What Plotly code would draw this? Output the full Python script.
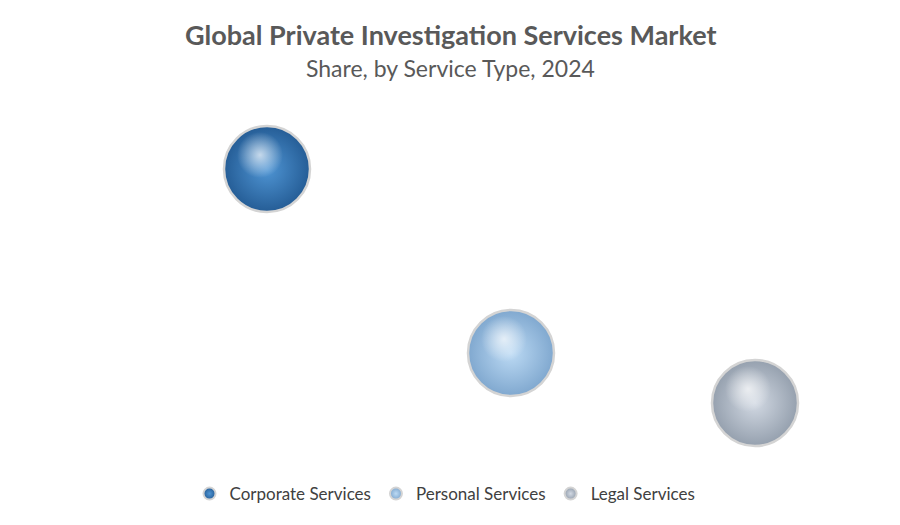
import plotly.graph_objects as go

categories = ["Corporate Services", "Personal Services", "Legal Services"]
share_values = [45.6, 29.4, 25.0]
inner_colors = ["#4f95d4", "#bcdaf4", "#d2d9e3"]
outer_colors = ["#255d96", "#80a8cf", "#95a0ae"]

fig = go.Figure()
for cat, val, ic, oc in zip(categories, share_values, inner_colors, outer_colors):
    fig.add_trace(go.Scatter(
        x=[cat], y=[val], name=cat, mode="markers",
        marker=dict(size=86, color=oc,
                    gradient=dict(type="radial", color=ic),
                    line=dict(color="#d4d4d4", width=2.5)),
        hovertemplate="%{x}: %{y}<extra></extra>",
    ))

# specular highlight drawn from same data on a slightly shifted overlay axis
fig.add_trace(go.Scatter(
    x=categories, y=share_values, mode="markers", showlegend=False,
    xaxis="x2", yaxis="y2", hoverinfo="skip",
    marker=dict(size=46, color="rgba(255,255,255,0)",
                gradient=dict(type="radial", color="rgba(255,255,255,0.7)"),
                line=dict(width=0)),
))

px_per_unit = 370 / (51.67 - 19.1)
dx = 7 / 244
dy = 14 / px_per_unit
cx = (450 - 145) / 732

fig.update_layout(
    width=900, height=525,
    paper_bgcolor="white", plot_bgcolor="white",
    margin=dict(l=145, r=23, t=100, b=55),
    font=dict(family="Lato, 'Open Sans', sans-serif", color="#404040"),
    xaxis=dict(type="category", categoryarray=categories, range=[-0.5, 2.5],
               visible=False),
    yaxis=dict(range=[19.1, 51.67], visible=False),
    xaxis2=dict(type="category", categoryarray=categories, overlaying="x",
                range=[-0.5 + dx, 2.5 + dx], visible=False),
    yaxis2=dict(range=[19.1 - dy, 51.67 - dy], overlaying="y", visible=False),
    showlegend=True,
    legend=dict(orientation="h", x=(445 - 145) / 732, xanchor="center",
                y=-0.065, yanchor="middle",
                itemsizing="constant", font=dict(size=17, color="#404040"),
                itemwidth=30, traceorder="normal"),
    annotations=[
        dict(text="<b>Global Private Investigation Services Market</b>",
             xref="paper", yref="paper", x=cx, y=1.1757, xanchor="center",
             yanchor="middle", showarrow=False,
             font=dict(size=27, color="#595959")),
        dict(text="Share, by Service Type, 2024",
             xref="paper", yref="paper", x=cx, y=1.0865, xanchor="center",
             yanchor="middle", showarrow=False,
             font=dict(size=23, color="#595959")),
    ],
)

fig.write_html("out.html", config={"displayModeBar": False},
               post_script="document.body.style.margin='0px';")
